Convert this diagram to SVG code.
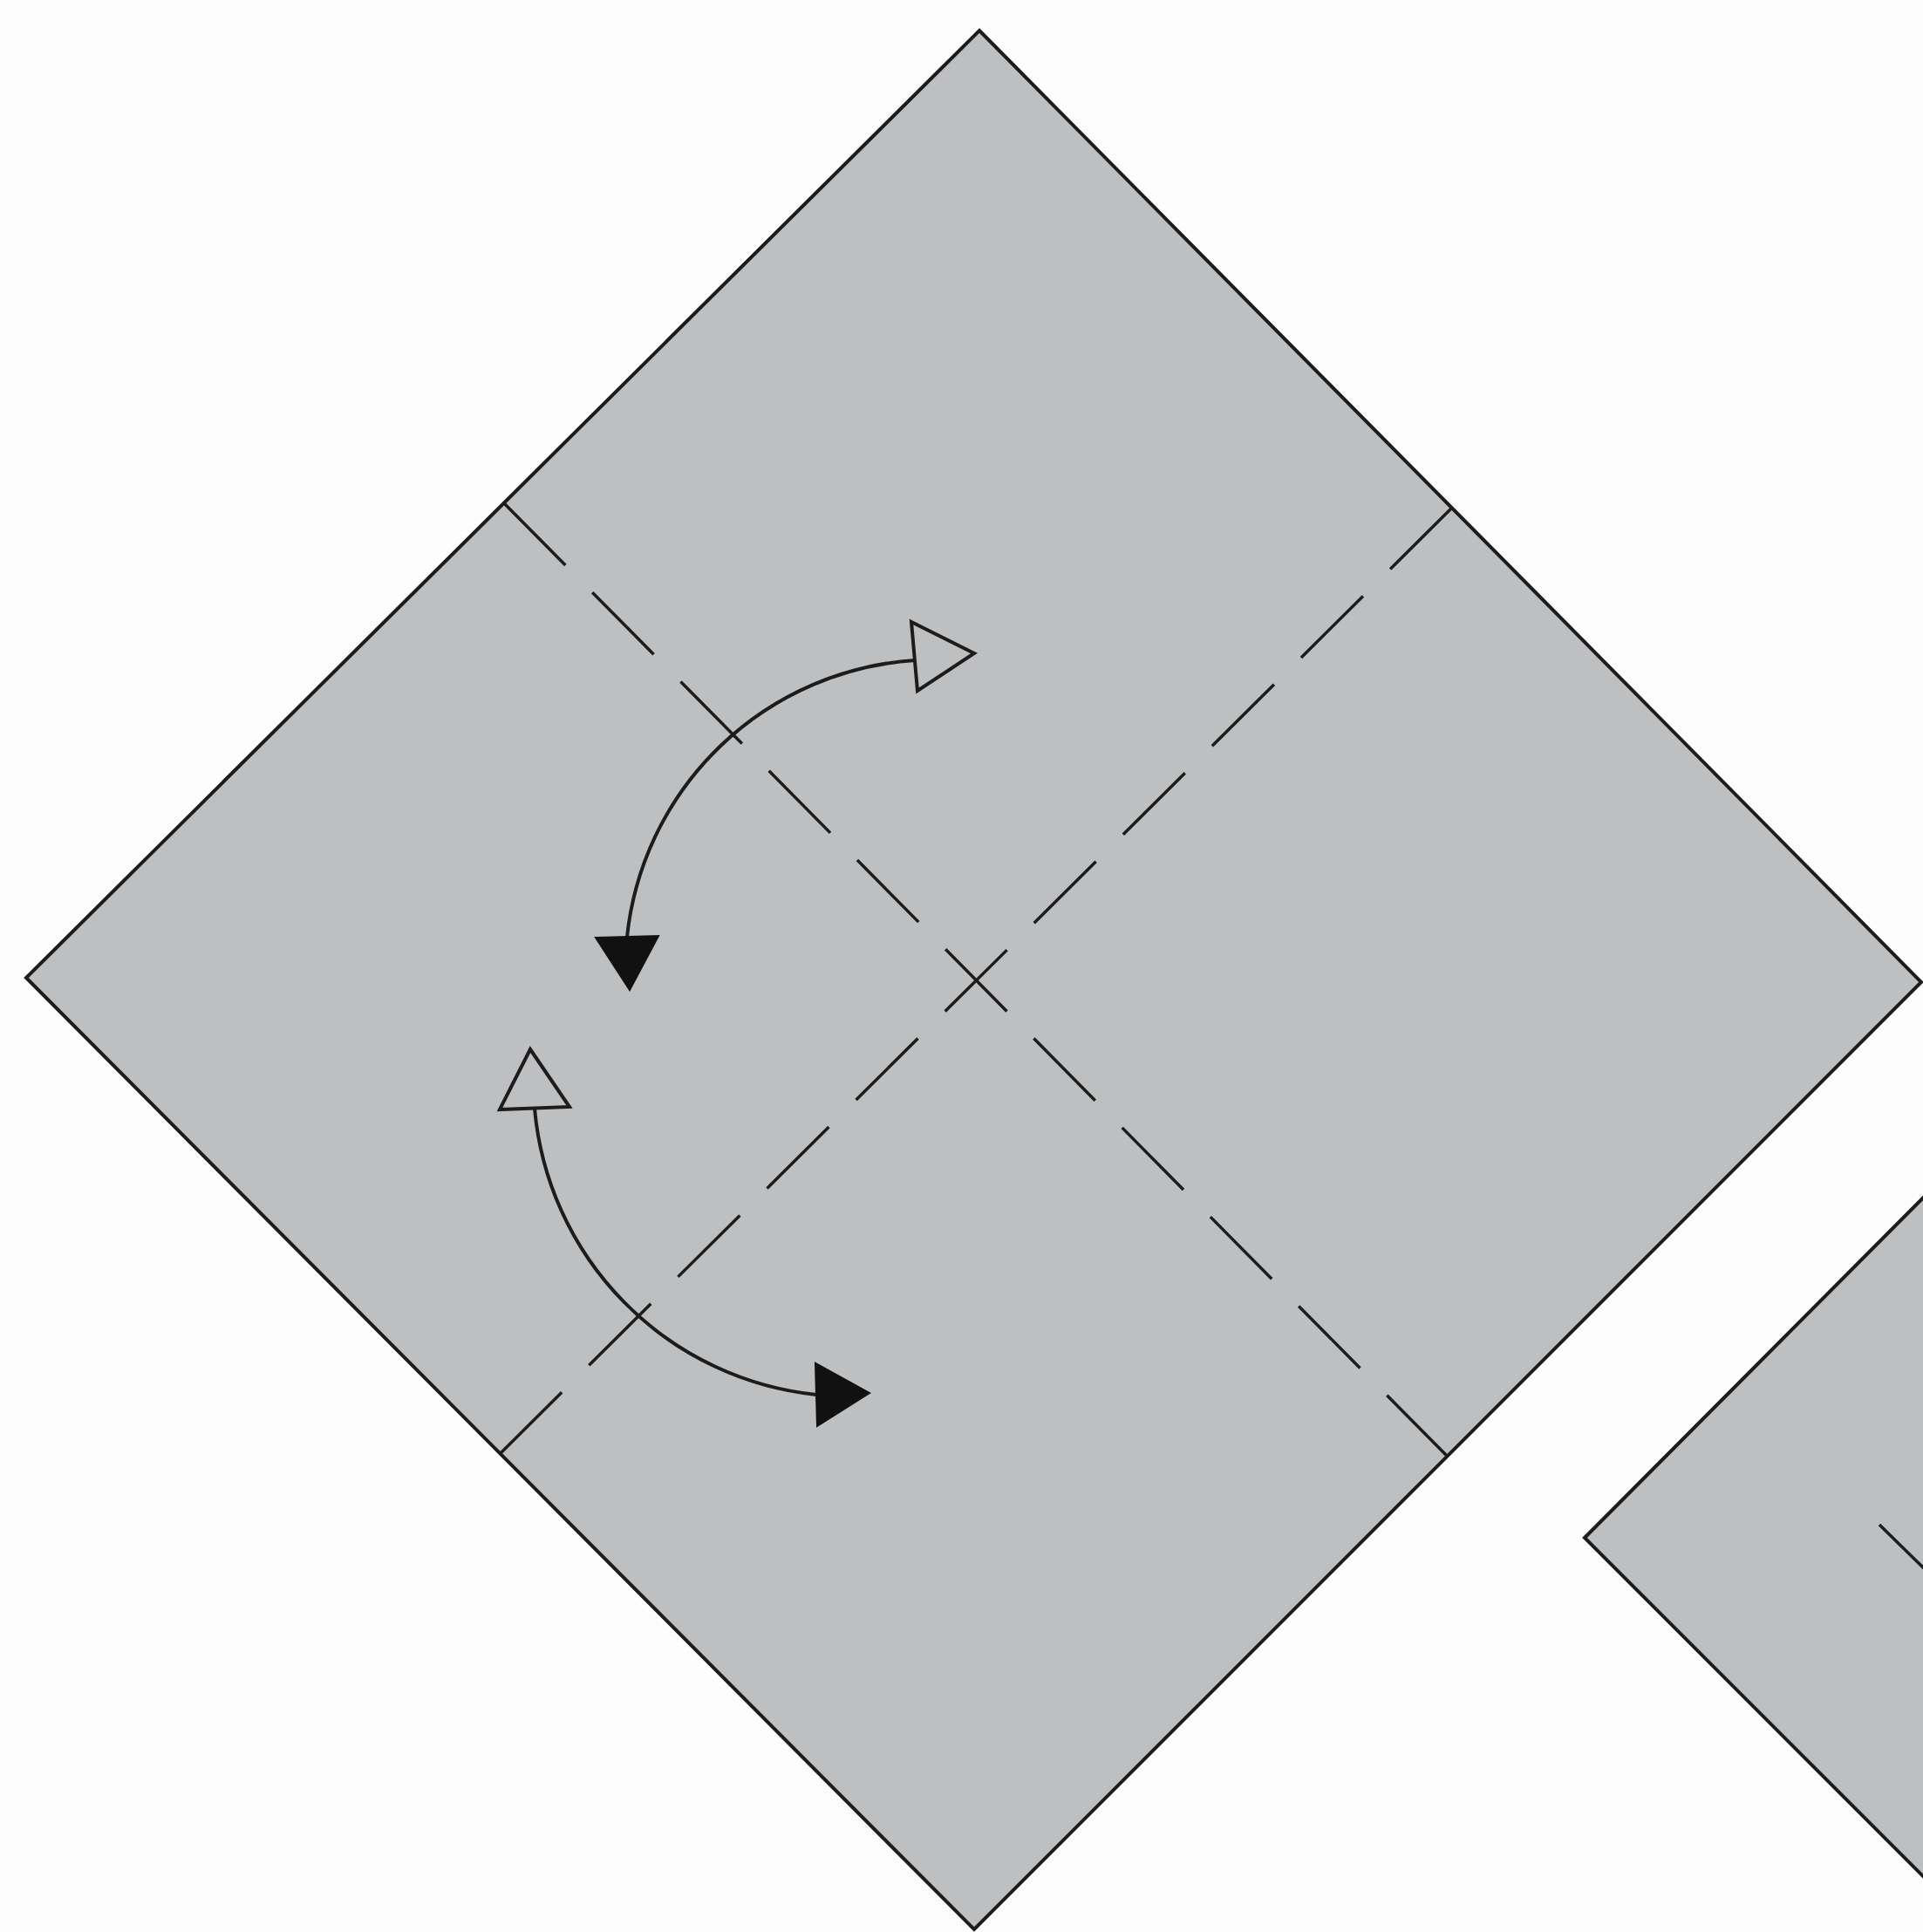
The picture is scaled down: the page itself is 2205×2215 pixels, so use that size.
<svg xmlns="http://www.w3.org/2000/svg" width="2205" height="2215" viewBox="0 0 2205 2215">
<style>
.paper{fill:#bebfc1;stroke:#1c1c1c;stroke-width:4;stroke-linejoin:miter}
.crease{fill:none;stroke:#1c1c1c;stroke-width:3.5;stroke-dasharray:100 43.9}
.arc{fill:none;stroke:#1c1c1c;stroke-width:4}
.headOpen{fill:none;stroke:#1c1c1c;stroke-width:4;stroke-linejoin:miter}
.headFill{fill:#111;stroke:#111;stroke-width:2}
</style>
<rect width="2205" height="2215" fill="#fdfdfd"/>
<g id="square-main">
<polygon class="paper" points="1123,35 2203,1126 1117,2212 30,1121"/>
</g>
<g id="square-next">
<polygon class="paper" points="1817,1763 2317,1261 2317,2263"/>
<line x1="2155" y1="1748" x2="2208" y2="1800" stroke="#1c1c1c" stroke-width="3.5"/>
</g>
<g id="creases">
<line class="crease" x1="578" y1="577" x2="1660" y2="1670"/>
<line class="crease" x1="1665" y1="582" x2="573" y2="1667"/>
</g>
<g id="connectors">
<g id="arrow-upper">
<path class="arc" d="M1049,757 A355,355 0 0 0 719,1074"/>
<polygon class="headOpen" points="1045,713 1117,749 1052,792"/>
<polygon class="headFill" points="683,1075 755,1073 722,1135"/>
</g>
<g id="arrow-lower">
<path class="arc" d="M613,1271 A362,362 0 0 0 936,1599"/>
<polygon class="headOpen" points="608,1203 653,1269 573,1272"/>
<polygon class="headFill" points="935,1563 997,1597 937,1635"/>
</g>
</g>
</svg>
